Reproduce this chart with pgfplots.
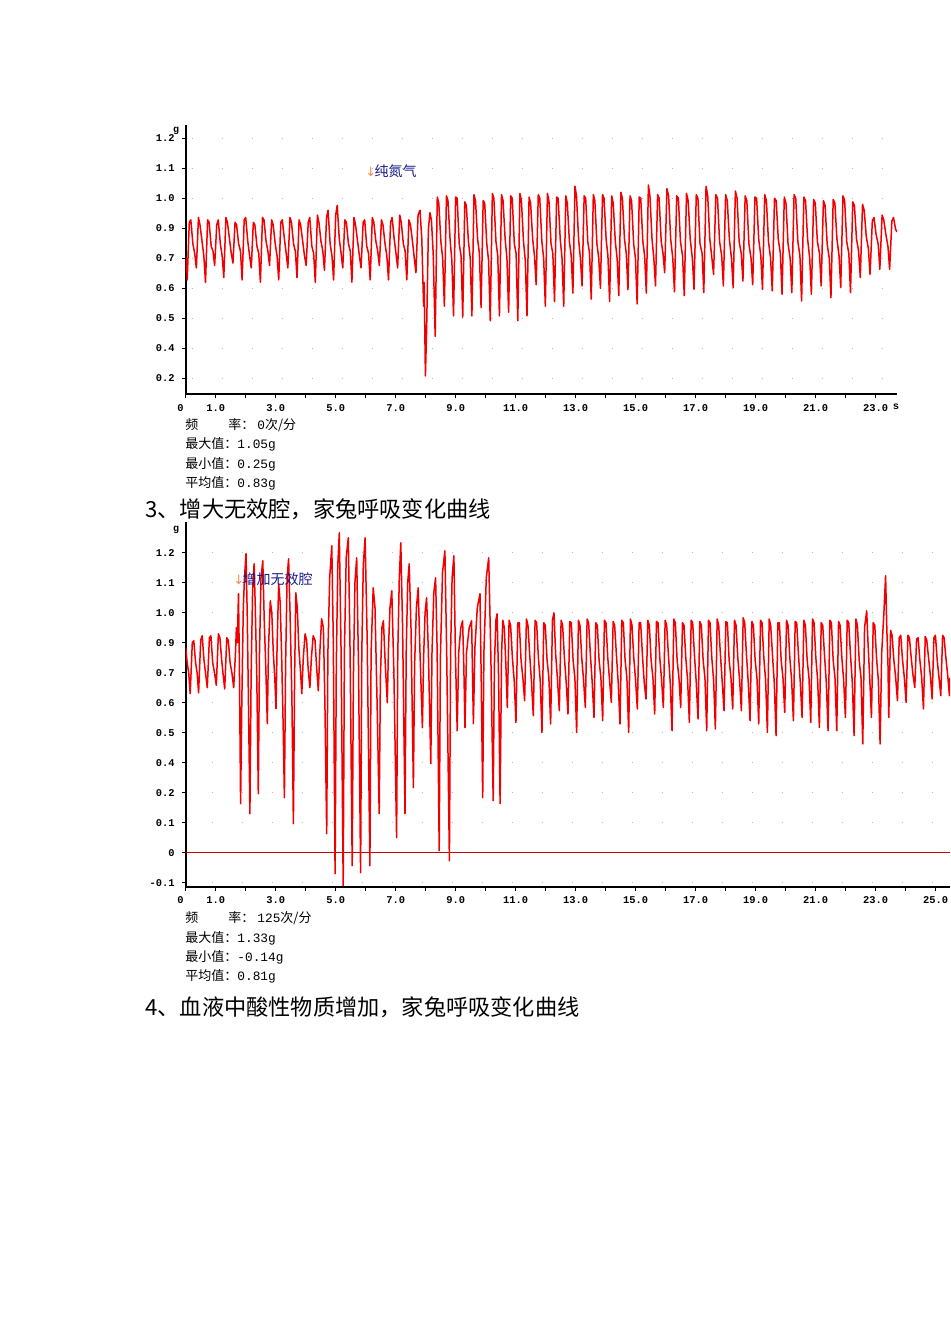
\documentclass[border=0pt]{standalone}
\usepackage{fontspec}
\setmainfont{Liberation Mono}
\newfontfamily\cjk{Noto Sans CJK SC}
\newfontfamily\sym{DejaVu Sans}
\usepackage{pgfplots}
\pgfplotsset{compat=1.18}

\definecolor{tracered}{RGB}{240,0,0}
\definecolor{dotgrey}{RGB}{185,185,185}
\definecolor{navytext}{RGB}{25,25,140}
\definecolor{arrowor}{RGB}{245,140,80}
\definecolor{zeroline}{RGB}{200,0,0}

\newcommand{\num}[1]{{\rmfamily\fontsize{6.4}{7}\selectfont #1}}

\pgfplotsset{
  recorder/.style={
    scale only axis,
    axis x line*=bottom,
    axis y line*=left,
    axis line style={black, line width=0.9pt},
    tick align=outside,
    major tick length=2pt,
    every tick/.style={black, line width=0.6pt},
    tick label style={font=\bfseries\fontsize{5.2}{6}\selectfont},
    xticklabel style={yshift=0.5pt},
    ymajorgrids,
    major grid style={dotgrey, line width=0.7pt, dash pattern=on 0.6pt off 14.4pt},
    clip=true,
  },
  resp/.style={tracered, line width=0.75pt, line join=round, no markers},
}

\begin{document}
\begin{tikzpicture}
\path[use as bounding box] (0,0) rectangle (475pt,-672pt);

% ---------------- upper record: pure nitrogen ----------------
\begin{axis}[recorder,
  at={(92.85pt,-197pt)}, anchor=south west,
  width=355.65pt, height=134.5pt,
  xmin=0, xmax=23.71, ymin=0.135, ymax=1.255,
  major grid style={dash phase=12pt},
  xtick={0,1,...,23},
  xticklabels={\llap{0\hspace{1pt}},1.0,,3.0,,5.0,,7.0,,9.0,,11.0,,13.0,,15.0,,17.0,,19.0,,21.0,,23.0},
  ytick={0.2,0.325,0.45,0.575,0.7,0.825,0.95,1.075,1.2},
  yticklabels={0.2,0.4,0.5,0.6,0.7,0.9,1.0,1.1,1.2},
]
\addplot[resp] coordinates {
(0,0.64) (0.03,0.70)
(0.05,0.61) (0.12,0.85) (0.17,0.86) (0.24,0.76) (0.30,0.72)
(0.355,0.66) (0.425,0.87) (0.475,0.84) (0.545,0.77) (0.605,0.71)
(0.66,0.60) (0.73,0.86) (0.78,0.85) (0.85,0.75) (0.91,0.73)
(0.965,0.67) (1.035,0.84) (1.085,0.86) (1.155,0.76) (1.215,0.71)
(1.27,0.62) (1.34,0.87) (1.39,0.85) (1.46,0.78) (1.52,0.72)
(1.575,0.68) (1.645,0.85) (1.695,0.84) (1.765,0.76) (1.825,0.73)
(1.88,0.61) (1.95,0.86) (2.00,0.87) (2.07,0.77) (2.13,0.71)
(2.185,0.66) (2.255,0.85) (2.305,0.84) (2.375,0.75) (2.435,0.72)
(2.49,0.60) (2.56,0.87) (2.61,0.86) (2.68,0.77) (2.74,0.73)
(2.795,0.67) (2.865,0.86) (2.915,0.84) (2.985,0.76) (3.045,0.71)
(3.10,0.61) (3.17,0.85) (3.22,0.86) (3.29,0.78) (3.35,0.72)
(3.405,0.66) (3.475,0.87) (3.525,0.85) (3.595,0.76) (3.655,0.73)
(3.71,0.62) (3.78,0.86) (3.83,0.84) (3.90,0.77) (3.96,0.71)
(4.015,0.67) (4.085,0.85) (4.135,0.87) (4.205,0.75) (4.265,0.72)
(4.32,0.60) (4.39,0.88) (4.44,0.85) (4.51,0.77) (4.57,0.73)
(4.625,0.65) (4.695,0.87) (4.745,0.90) (4.815,0.76) (4.875,0.71)
(4.93,0.61) (5.00,0.88) (5.05,0.92) (5.12,0.78) (5.18,0.72)
(5.235,0.66) (5.305,0.86) (5.355,0.85) (5.425,0.76) (5.485,0.73)
(5.54,0.60) (5.61,0.87) (5.66,0.84) (5.73,0.77) (5.79,0.71)
(5.845,0.66) (5.915,0.85) (5.965,0.86) (6.035,0.75) (6.095,0.72)
(6.15,0.61) (6.22,0.87) (6.27,0.85) (6.34,0.77) (6.40,0.73)
(6.455,0.67) (6.525,0.86) (6.575,0.84) (6.645,0.76) (6.705,0.71)
(6.76,0.61) (6.83,0.85) (6.88,0.87) (6.95,0.78) (7.01,0.72)
(7.065,0.66) (7.135,0.88) (7.185,0.85) (7.255,0.76) (7.315,0.73)
(7.37,0.61) (7.44,0.86) (7.49,0.84) (7.56,0.77) (7.62,0.70)
(7.675,0.64) (7.745,0.88) (7.81,0.90) (7.87,0.78) (7.93,0.50) (7.95,0.60)
(7.99,0.21) (8.03,0.40) (8.09,0.82) (8.14,0.89) (8.19,0.86) (8.25,0.72)
(8.316,0.375) (8.386,0.955) (8.436,0.93) (8.506,0.77) (8.566,0.70)
(8.622,0.50) (8.692,0.96) (8.742,0.94) (8.812,0.78) (8.872,0.69)
(8.928,0.46) (8.998,0.955) (9.048,0.95) (9.118,0.76) (9.178,0.71)
(9.234,0.455) (9.304,0.935) (9.354,0.92) (9.424,0.77) (9.484,0.70)
(9.54,0.46) (9.61,0.965) (9.66,0.94) (9.73,0.78) (9.79,0.72)
(9.846,0.495) (9.916,0.94) (9.966,0.93) (10.036,0.76) (10.096,0.69)
(10.152,0.44) (10.222,0.97) (10.272,0.95) (10.342,0.77) (10.402,0.71)
(10.458,0.46) (10.528,0.965) (10.578,0.94) (10.648,0.78) (10.708,0.70)
(10.764,0.475) (10.834,0.96) (10.884,0.95) (10.954,0.76) (11.014,0.72)
(11.07,0.44) (11.14,0.97) (11.19,0.94) (11.26,0.77) (11.32,0.69)
(11.376,0.46) (11.446,0.955) (11.496,0.93) (11.566,0.78) (11.626,0.71)
(11.682,0.59) (11.752,0.965) (11.802,0.95) (11.872,0.77) (11.932,0.70)
(11.988,0.50) (12.058,0.97) (12.108,0.94) (12.178,0.76) (12.238,0.72)
(12.294,0.52) (12.364,0.955) (12.414,0.95) (12.484,0.78) (12.544,0.70)
(12.60,0.50) (12.67,0.96) (12.72,0.93) (12.79,0.77) (12.85,0.71)
(12.906,0.555) (12.976,1.0) (13.026,0.96) (13.096,0.78) (13.156,0.70)
(13.212,0.585) (13.282,0.96) (13.332,0.95) (13.402,0.77) (13.462,0.72)
(13.518,0.53) (13.588,0.965) (13.638,0.94) (13.708,0.76) (13.768,0.70)
(13.824,0.575) (13.894,0.965) (13.944,0.95) (14.014,0.78) (14.074,0.71)
(14.13,0.52) (14.20,0.96) (14.25,0.93) (14.32,0.77) (14.38,0.70)
(14.436,0.545) (14.506,0.975) (14.556,0.95) (14.626,0.78) (14.686,0.72)
(14.742,0.57) (14.812,0.96) (14.862,0.94) (14.932,0.76) (14.992,0.70)
(15.048,0.51) (15.118,0.955) (15.168,0.95) (15.238,0.77) (15.298,0.71)
(15.354,0.555) (15.424,1.005) (15.474,0.96) (15.544,0.78) (15.604,0.70)
(15.66,0.585) (15.73,0.965) (15.78,0.95) (15.85,0.77) (15.91,0.72)
(15.966,0.64) (16.041,0.99) (16.096,0.96) (16.166,0.78) (16.236,0.70)
(16.292,0.56) (16.367,0.96) (16.422,0.95) (16.492,0.77) (16.562,0.71)
(16.618,0.545) (16.693,0.97) (16.748,0.94) (16.818,0.78) (16.888,0.70)
(16.944,0.571) (17.019,0.965) (17.074,0.95) (17.144,0.76) (17.214,0.72)
(17.27,0.557) (17.345,1.0) (17.40,0.96) (17.47,0.78) (17.54,0.70)
(17.596,0.633) (17.671,0.965) (17.726,0.95) (17.796,0.77) (17.866,0.71)
(17.922,0.585) (17.997,0.965) (18.052,0.94) (18.122,0.78) (18.192,0.70)
(18.248,0.578) (18.323,0.98) (18.378,0.95) (18.448,0.77) (18.518,0.72)
(18.574,0.605) (18.649,0.96) (18.704,0.94) (18.774,0.76) (18.844,0.70)
(18.90,0.59) (18.975,0.955) (19.03,0.95) (19.10,0.78) (19.17,0.71)
(19.226,0.571) (19.301,0.965) (19.356,0.94) (19.426,0.77) (19.496,0.70)
(19.552,0.564) (19.627,0.95) (19.682,0.94) (19.752,0.78) (19.822,0.72)
(19.878,0.55) (19.953,0.955) (20.008,0.93) (20.078,0.76) (20.148,0.70)
(20.204,0.557) (20.279,0.965) (20.334,0.95) (20.404,0.77) (20.474,0.71)
(20.53,0.522) (20.605,0.955) (20.66,0.94) (20.73,0.78) (20.80,0.70)
(20.856,0.55) (20.931,0.945) (20.986,0.93) (21.056,0.77) (21.126,0.72)
(21.182,0.585) (21.257,0.94) (21.312,0.92) (21.382,0.76) (21.452,0.70)
(21.508,0.536) (21.583,0.945) (21.638,0.93) (21.708,0.78) (21.778,0.71)
(21.834,0.578) (21.909,0.96) (21.964,0.94) (22.034,0.77) (22.104,0.72)
(22.16,0.557) (22.235,0.935) (22.29,0.92) (22.36,0.78) (22.43,0.73)
(22.486,0.62) (22.561,0.925) (22.616,0.90) (22.686,0.79) (22.756,0.74)
(22.812,0.633) (22.887,0.855) (22.942,0.87) (23.012,0.80) (23.082,0.76)
(23.138,0.654) (23.213,0.88) (23.268,0.86) (23.338,0.80) (23.408,0.75)
(23.464,0.654) (23.539,0.855) (23.594,0.87) (23.664,0.82) (23.71,0.81)
};
\end{axis}

% ---------------- lower record: increased dead space ----------------
\begin{axis}[recorder,
  at={(92.85pt,-443.35pt)}, anchor=south west,
  width=382.15pt, height=182.35pt,
  xmin=0, xmax=25.477, ymin=-0.136, ymax=1.323,
  major grid style={dash phase=2pt},
  xtick={0,1,...,25},
  xticklabels={\llap{0\hspace{1pt}},1.0,,3.0,,5.0,,7.0,,9.0,,11.0,,13.0,,15.0,,17.0,,19.0,,21.0,,23.0,,25.0},
  ytick={-0.12,0,0.12,0.24,0.36,0.48,0.60,0.72,0.84,0.96,1.08,1.2},
  yticklabels={-0.1,0,0.1,0.2,0.4,0.5,0.6,0.7,0.9,1.0,1.1,1.2},
]
\draw[zeroline, line width=0.6pt] (axis cs:0,0) -- (axis cs:25.477,0);
\addplot[resp] coordinates {
(0,0.82) (0.05,0.76) (0.10,0.72)
(0.15,0.636) (0.22,0.84) (0.27,0.848) (0.33,0.76) (0.38,0.72)
(0.43,0.64) (0.50,0.85) (0.55,0.868) (0.61,0.77) (0.67,0.71)
(0.72,0.66) (0.79,0.86) (0.84,0.868) (0.90,0.76) (0.96,0.72)
(1.02,0.67) (1.09,0.876) (1.14,0.86) (1.20,0.77) (1.25,0.71)
(1.30,0.655) (1.37,0.86) (1.42,0.85) (1.48,0.76) (1.54,0.72)
(1.60,0.66) (1.66,0.80) (1.69,0.90) (1.72,0.84) (1.76,1.036) (1.79,0.75)
(1.83,0.196) (1.87,0.60) (1.92,0.98) (1.96,1.10) (2.01,1.196) (2.05,0.96) (2.09,0.62)
(2.14,0.156) (2.18,0.70) (2.23,1.05) (2.28,1.156) (2.32,0.98) (2.37,0.70)
(2.42,0.236) (2.46,0.80) (2.51,1.10) (2.57,1.168) (2.62,0.92) (2.67,0.74)
(2.72,0.516) (2.76,0.82) (2.82,1.008) (2.87,0.96) (2.92,0.80) (2.97,0.70)
(3.01,0.576) (3.05,0.85) (3.10,1.076) (3.15,1.00) (3.20,0.78) (3.25,0.50)
(3.29,0.22) (3.33,0.75) (3.38,1.10) (3.43,1.176) (3.48,0.95) (3.54,0.62)
(3.59,0.116) (3.63,0.70) (3.67,1.04) (3.72,0.98) (3.77,0.82) (3.83,0.72)
(3.87,0.636) (3.92,0.78) (3.98,0.876) (4.03,0.85) (4.08,0.74)
(4.14,0.66) (4.19,0.78) (4.25,0.868) (4.31,0.85) (4.37,0.73)
(4.42,0.648) (4.47,0.80) (4.53,0.936) (4.59,0.90) (4.64,0.60)
(4.70,0.076) (4.74,0.80) (4.80,1.10) (4.87,1.228) (4.92,0.85)
(4.98,-0.084) (5.02,0.75) (5.07,1.15) (5.12,1.28) (5.18,0.80)
(5.25,-0.132) (5.29,0.80) (5.35,1.18) (5.42,1.26) (5.48,0.80)
(5.55,-0.052) (5.59,0.70) (5.64,1.08) (5.70,1.18) (5.76,0.75)
(5.83,-0.08) (5.87,0.80) (5.92,1.15) (5.98,1.26) (6.05,0.85)
(6.14,-0.052) (6.18,0.80) (6.25,1.06) (6.31,0.98) (6.38,0.60)
(6.45,0.156) (6.49,0.70) (6.54,0.90) (6.59,0.928) (6.65,0.76)
(6.72,0.60) (6.76,0.82) (6.81,0.98) (6.87,1.048) (6.94,0.72)
(7.03,0.06) (7.07,0.80) (7.12,1.10) (7.17,1.24) (7.23,0.90)
(7.31,0.156) (7.35,0.80) (7.40,1.08) (7.45,1.156) (7.51,0.90)
(7.59,0.26) (7.63,0.75) (7.69,0.98) (7.75,1.06) (7.81,0.80)
(7.89,0.50) (7.93,0.78) (7.98,0.96) (8.03,1.02) (8.09,0.80)
(8.17,0.356) (8.21,0.80) (8.27,1.04) (8.33,1.10) (8.38,0.82)
(8.45,0.008) (8.49,0.78) (8.56,1.12) (8.64,1.208) (8.70,0.80)
(8.79,-0.032) (8.83,0.80) (8.88,1.10) (8.94,1.188) (8.99,0.80)
(9.05,0.488) (9.10,0.80) (9.17,0.90) (9.23,0.928) (9.27,0.75)
(9.31,0.50) (9.36,0.80) (9.45,0.90) (9.53,0.928) (9.56,0.72)
(9.59,0.516) (9.64,0.82) (9.72,0.98) (9.81,1.036) (9.85,0.70)
(9.90,0.22) (9.94,0.80) (10.02,1.10) (10.10,1.18) (10.17,0.80)
(10.25,0.208) (10.29,0.75) (10.34,0.93) (10.38,0.956) (10.43,0.70)
(10.48,0.196) (10.53,0.80) (10.57,0.93) (10.62,0.90) (10.67,0.76)
(10.72,0.581) (10.78,0.93) (10.83,0.91) (10.89,0.78) (10.95,0.69)
(11.009,0.521) (11.069,0.92) (11.119,0.92) (11.179,0.77) (11.239,0.70)
(11.298,0.608) (11.358,0.935) (11.408,0.91) (11.468,0.79) (11.528,0.68)
(11.587,0.548) (11.647,0.93) (11.697,0.92) (11.757,0.78) (11.817,0.69)
(11.876,0.481) (11.936,0.92) (11.986,0.91) (12.046,0.77) (12.106,0.70)
(12.165,0.515) (12.225,0.93) (12.275,0.96) (12.335,0.79) (12.395,0.69)
(12.454,0.568) (12.514,0.93) (12.564,0.91) (12.624,0.78) (12.684,0.68)
(12.743,0.555) (12.803,0.925) (12.853,0.92) (12.913,0.77) (12.973,0.70)
(13.032,0.481) (13.092,0.93) (13.142,0.91) (13.202,0.78) (13.262,0.69)
(13.321,0.581) (13.381,0.935) (13.431,0.92) (13.491,0.79) (13.551,0.68)
(13.61,0.541) (13.67,0.92) (13.72,0.91) (13.78,0.77) (13.84,0.70)
(13.899,0.528) (13.959,0.93) (14.009,0.92) (14.069,0.78) (14.129,0.69)
(14.188,0.601) (14.248,0.925) (14.298,0.91) (14.358,0.79) (14.418,0.68)
(14.477,0.515) (14.537,0.93) (14.587,0.92) (14.647,0.77) (14.707,0.70)
(14.766,0.481) (14.826,0.935) (14.876,0.91) (14.936,0.78) (14.996,0.69)
(15.055,0.575) (15.115,0.92) (15.165,0.92) (15.225,0.79) (15.285,0.68)
(15.344,0.615) (15.404,0.93) (15.454,0.91) (15.514,0.77) (15.574,0.70)
(15.633,0.555) (15.693,0.925) (15.743,0.92) (15.803,0.78) (15.863,0.69)
(15.922,0.581) (15.982,0.93) (16.032,0.91) (16.092,0.79) (16.152,0.68)
(16.211,0.488) (16.271,0.935) (16.321,0.92) (16.381,0.77) (16.441,0.70)
(16.50,0.581) (16.56,0.92) (16.61,0.91) (16.67,0.78) (16.73,0.69)
(16.789,0.521) (16.849,0.93) (16.899,0.92) (16.959,0.79) (17.019,0.68)
(17.078,0.535) (17.138,0.925) (17.188,0.91) (17.248,0.77) (17.308,0.70)
(17.367,0.488) (17.427,0.93) (17.477,0.92) (17.537,0.78) (17.597,0.69)
(17.656,0.495) (17.716,0.935) (17.766,0.91) (17.826,0.79) (17.886,0.68)
(17.945,0.568) (18.005,0.925) (18.055,0.92) (18.115,0.77) (18.175,0.70)
(18.234,0.575) (18.294,0.93) (18.344,0.91) (18.404,0.78) (18.464,0.69)
(18.523,0.568) (18.583,0.94) (18.633,0.92) (18.693,0.79) (18.753,0.68)
(18.812,0.528) (18.872,0.925) (18.922,0.91) (18.982,0.77) (19.042,0.70)
(19.101,0.515) (19.161,0.93) (19.211,0.92) (19.271,0.78) (19.331,0.69)
(19.39,0.481) (19.45,0.935) (19.50,0.91) (19.56,0.79) (19.62,0.68)
(19.679,0.468) (19.739,0.92) (19.789,0.92) (19.849,0.77) (19.909,0.70)
(19.968,0.561) (20.028,0.93) (20.078,0.91) (20.138,0.78) (20.198,0.69)
(20.257,0.528) (20.317,0.925) (20.367,0.92) (20.427,0.79) (20.487,0.68)
(20.546,0.541) (20.606,0.93) (20.656,0.91) (20.716,0.77) (20.776,0.70)
(20.835,0.521) (20.895,0.935) (20.945,0.92) (21.005,0.78) (21.065,0.69)
(21.124,0.501) (21.184,0.92) (21.234,0.91) (21.294,0.79) (21.354,0.68)
(21.413,0.488) (21.473,0.93) (21.523,0.92) (21.583,0.77) (21.643,0.70)
(21.702,0.488) (21.762,0.925) (21.812,0.91) (21.872,0.78) (21.932,0.69)
(21.991,0.541) (22.051,0.93) (22.101,0.92) (22.161,0.79) (22.221,0.68)
(22.28,0.468) (22.34,0.935) (22.39,0.91) (22.45,0.77) (22.51,0.70)
(22.569,0.435) (22.629,0.90) (22.70,0.968) (22.74,0.85) (22.80,0.70)
(22.858,0.541) (22.918,0.92) (22.968,0.91) (23.028,0.78) (23.088,0.69)
(23.147,0.435) (23.20,0.80) (23.27,0.95) (23.33,1.108) (23.37,0.90) (23.41,0.75)
(23.436,0.541) (23.496,0.89) (23.546,0.87) (23.606,0.77) (23.666,0.70)
(23.725,0.608) (23.785,0.86) (23.835,0.87) (23.895,0.77) (23.955,0.70)
(24.014,0.601) (24.074,0.87) (24.124,0.86) (24.184,0.78) (24.244,0.71)
(24.303,0.661) (24.363,0.855) (24.413,0.86) (24.473,0.77) (24.533,0.70)
(24.592,0.575) (24.652,0.865) (24.702,0.85) (24.762,0.78) (24.822,0.71)
(24.881,0.615) (24.941,0.86) (24.991,0.87) (25.051,0.77) (25.111,0.70)
(25.17,0.628) (25.23,0.87) (25.28,0.86) (25.34,0.78) (25.40,0.71)
(25.459,0.628) (25.477,0.70)
};
\end{axis}

% ---------------- units and markers ----------------
\node[font=\bfseries\fontsize{5}{6}\selectfont, inner sep=0pt] at (88pt,-65.5pt) {g};
\node[font=\bfseries\fontsize{5}{6}\selectfont, inner sep=0pt] at (88pt,-265pt) {g};
\node[font=\bfseries\fontsize{5.2}{6}\selectfont, inner sep=0pt] at (448pt,-203.5pt) {s};

\node[anchor=west, inner sep=0pt] at (182.5pt,-85.5pt)
  {{\sym\fontsize{6.5}{7}\selectfont\color{arrowor}↓}\hspace{-0.8pt}{\cjk\fontsize{7}{8}\selectfont\color{navytext}纯氮气}};
\node[anchor=west, inner sep=0pt] at (116.5pt,-289.5pt)
  {{\sym\fontsize{6.5}{7}\selectfont\color{arrowor}↓}\hspace{-0.8pt}{\cjk\fontsize{7}{8}\selectfont\color{navytext}增加无效腔}};

% ---------------- readouts and captions ----------------
\begin{scope}[every node/.style={anchor=west, inner sep=0pt, font=\cjk\fontsize{6.5}{7}\selectfont}]
\node at (92.5pt,-212.5pt) {频\hspace{15pt}率：\hspace{1.5pt}\num{0}次/分};
\node at (92.5pt,-222pt) {最大值：\num{1.05g}};
\node at (92.5pt,-232pt) {最小值：\num{0.25g}};
\node at (92.5pt,-241.5pt) {平均值：\num{0.83g}};
\node at (92.5pt,-459pt) {频\hspace{15pt}率：\hspace{1.5pt}\num{125}次/分};
\node at (92.5pt,-469pt) {最大值：\num{1.33g}};
\node at (92.5pt,-478.5pt) {最小值：\num{-0.14g}};
\node at (92.5pt,-488pt) {平均值：\num{0.81g}};
\end{scope}
\node[anchor=west, inner sep=0pt, font=\cjk\fontsize{11.1}{12}\selectfont] at (72.5pt,-254.5pt)
  {3、增大无效腔，家兔呼吸变化曲线};
\node[anchor=west, inner sep=0pt, font=\cjk\fontsize{11.1}{12}\selectfont] at (72.5pt,-503.5pt)
  {4、血液中酸性物质增加，家兔呼吸变化曲线};
\end{tikzpicture}
\end{document}
